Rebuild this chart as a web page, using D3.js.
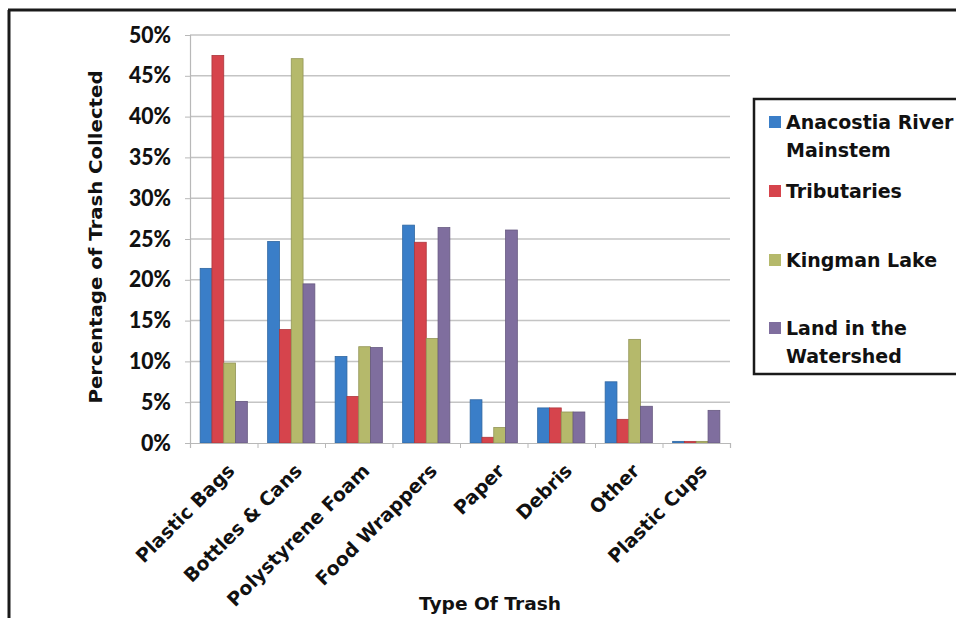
<!DOCTYPE html>
<html>
<head>
<meta charset="utf-8">
<script src="https://cdn.jsdelivr.net/npm/d3@7/dist/d3.min.js"></script>
<style>
  html, body { margin: 0; padding: 0; background: #fff; }
  svg { display: block; }
  text { font-family: "DejaVu Sans", sans-serif; font-weight: bold; fill: #111; }
</style>
</head>
<body>
<svg id="chart" width="956" height="618"></svg>
<script>
// Trash composition by collection area (percent of items collected)
const categories = ["Plastic Bags", "Bottles & Cans", "Polystyrene Foam", "Food Wrappers",
                    "Paper", "Debris", "Other", "Plastic Cups"];
const seriesNames = ["Anacostia River Mainstem", "Tributaries", "Kingman Lake", "Land in the Watershed"];
const legendLines = [["Anacostia River", "Mainstem"], ["Tributaries"], ["Kingman Lake"], ["Land in the", "Watershed"]];
const mainstem  = [21.4, 24.7, 10.6, 26.7, 5.3, 4.3, 7.5, 0.2];
const tributary = [47.5, 13.9,  5.7, 24.6, 0.7, 4.3, 2.9, 0.2];
const kingman   = [ 9.8, 47.1, 11.8, 12.8, 1.9, 3.8, 12.7, 0.2];
const land      = [ 5.1, 19.5, 11.7, 26.4, 26.1, 3.8, 4.5, 4.0];
const yTicks = [0, 5, 10, 15, 20, 25, 30, 35, 40, 45, 50];
const colors = ["#3a7ec8", "#d6444c", "#b5b96b", "#7f6e9e"];

const values = [mainstem, tributary, kingman, land];
const rows = categories.map((c, i) => ({
  category: c,
  items: seriesNames.map((s, j) => ({ series: s, value: values[j][i] }))
}));

const svg = d3.select("#chart");
const plot = { left: 190, right: 730, top: 35, bottom: 443 };

const x0 = d3.scaleBand().domain(categories).range([plot.left, plot.right]).padding(0);
const x1 = d3.scaleBand().domain(seriesNames).range([0, x0.bandwidth()])
  .paddingInner(0).paddingOuter(0.86);
const y = d3.scaleLinear().domain([0, 50]).range([plot.bottom, plot.top]);
const color = d3.scaleOrdinal().domain(seriesNames).range(colors);

// Squeeze a text element to a given width
function fitWidth(sel, w) {
  sel.attr("textLength", w).attr("lengthAdjust", "spacingAndGlyphs");
}

// outer frame (top and left edges)
svg.append("line").attr("x1", 8).attr("x2", 956).attr("y1", 10).attr("y2", 10)
  .attr("stroke", "#1a1a1a").attr("stroke-width", 3);
svg.append("line").attr("x1", 9).attr("x2", 9).attr("y1", 10).attr("y2", 618)
  .attr("stroke", "#1a1a1a").attr("stroke-width", 3);

// gridlines
svg.append("g").selectAll("line").data(yTicks.filter(d => d > 0)).join("line")
  .attr("x1", plot.left).attr("x2", plot.right)
  .attr("y1", d => y(d)).attr("y2", d => y(d))
  .attr("stroke", "#c4c4c4").attr("stroke-width", 1.5);

// y axis
const yAxis = svg.append("g").attr("transform", `translate(${plot.left},0)`)
  .call(d3.axisLeft(y).tickValues(yTicks).tickFormat(d => d + "%").tickSize(5).tickPadding(14));
yAxis.select(".domain").attr("stroke", "#b8b8b8").attr("stroke-width", 1.2);
yAxis.selectAll(".tick line").attr("stroke", "#b8b8b8");
yAxis.selectAll(".tick text")
  .style("font-family", "Lato, 'DejaVu Sans', sans-serif")
  .style("font-weight", "900").style("font-size", "22px").attr("fill", "#111")
  .each(function(d) { fitWidth(d3.select(this), d >= 10 ? 42 : 30); });

// bars
const groups = svg.append("g").selectAll("g").data(rows).join("g")
  .attr("transform", d => `translate(${x0(d.category)},0)`);
groups.selectAll("rect").data(d => d.items).join("rect")
  .attr("x", d => x1(d.series))
  .attr("width", x1.bandwidth())
  .attr("y", d => y(d.value))
  .attr("height", d => y(0) - y(d.value))
  .attr("fill", d => color(d.series))
  .attr("stroke", d => d3.color(color(d.series)).darker(0.6))
  .attr("stroke-width", 0.8);

// x axis
const xAxisScale = d3.scaleLinear().domain([0, categories.length]).range([plot.left, plot.right]);
const xAxis = svg.append("g").attr("transform", `translate(0,${plot.bottom})`)
  .call(d3.axisBottom(xAxisScale).ticks(categories.length).tickSize(5).tickFormat(""));
xAxis.select(".domain").attr("stroke", "#b8b8b8").attr("stroke-width", 1.2);
xAxis.selectAll(".tick line").attr("stroke", "#b8b8b8");

// category labels
svg.append("g").selectAll("text").data(categories).join("text")
  .attr("transform", d => `translate(${x0(d) + x0.bandwidth() / 2 + 12},472) rotate(-45)`)
  .attr("text-anchor", "end")
  .style("font-size", "19px")
  .text(d => d);

// axis titles
svg.append("text")
  .attr("transform", `translate(102,237) rotate(-90)`)
  .attr("text-anchor", "middle")
  .style("font-size", "18px")
  .text("Percentage of Trash Collected")
  .call(fitWidth, 333);

svg.append("text")
  .attr("x", 490).attr("y", 610)
  .attr("text-anchor", "middle")
  .style("font-size", "18px")
  .text("Type Of Trash")
  .call(fitWidth, 142);

// legend
const legend = svg.append("g");
legend.append("rect").attr("x", 754).attr("y", 99).attr("width", 220).attr("height", 275)
  .attr("fill", "#fff").attr("stroke", "#1a1a1a").attr("stroke-width", 2.5);
const legendTops = [116, 185, 254, 322];
const legendItems = legend.selectAll("g.item").data(seriesNames).join("g")
  .attr("class", "item")
  .attr("transform", (d, i) => `translate(769,${legendTops[i]})`);
legendItems.append("rect").attr("width", 12).attr("height", 12)
  .attr("fill", d => color(d));
legendItems.each(function(d, i) {
  const g = d3.select(this);
  legendLines[i].forEach((line, k) => {
    g.append("text").attr("x", 17).attr("y", 13 + k * 28)
      .style("font-size", "19px")
      .text(line);
  });
});
</script>
</body>
</html>
